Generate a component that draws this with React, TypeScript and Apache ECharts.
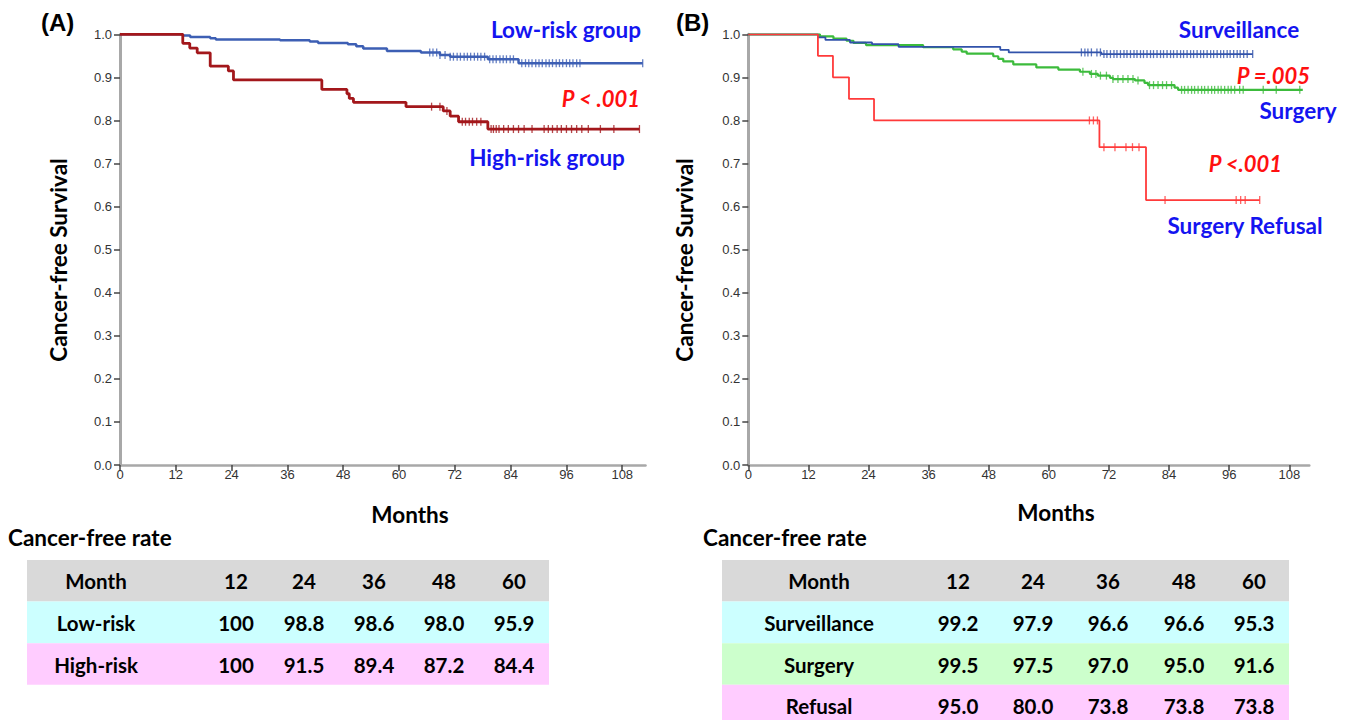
import React, { useEffect, useRef } from "react";
import * as echarts from "echarts";

// ---------- data ----------
const xTicks = [0, 12, 24, 36, 48, 60, 72, 84, 96, 108];
const yTicks = [0, 0.1, 0.2, 0.3, 0.4, 0.5, 0.6, 0.7, 0.8, 0.9, 1.0];

// Panel A: Kaplan-Meier steps [month, survival]
const lowRiskSteps = [
  [0, 1.0], [13.5, 0.997], [15.1, 0.994], [19.4, 0.991], [20.6, 0.988], [34.4, 0.986],
  [40.8, 0.983], [42.6, 0.98], [49.0, 0.977], [50.8, 0.972], [52.3, 0.967], [57.4, 0.961],
  [64.7, 0.958], [68.8, 0.952], [71.0, 0.948], [79.1, 0.942], [85.7, 0.933], [112.4, 0.933],
];
const highRiskSteps = [
  [0, 1.0], [13.5, 0.979], [15.0, 0.968], [16.6, 0.957], [19.4, 0.926], [23.3, 0.915],
  [24.4, 0.894], [43.4, 0.872], [48.8, 0.862], [49.3, 0.851], [50.2, 0.842], [61.5, 0.832],
  [69.5, 0.822], [71.0, 0.81], [72.8, 0.797], [79.1, 0.78], [111.7, 0.78],
];
const lowRiskCensored = [
  66.6, 67.3, 68.1, 68.8, 69.9, 71.0, 71.7, 72.5, 73.2, 74.0, 74.7, 75.4, 76.2, 76.9, 77.6,
  78.4, 79.5, 80.2, 80.9, 81.7, 82.4, 83.1, 83.9, 84.6, 86.4, 87.2, 87.9, 88.6, 89.4, 90.1,
  90.8, 91.6, 92.3, 93.0, 93.8, 94.5, 95.2, 96.0, 96.7, 97.4, 98.2, 98.9, 112.4,
];
const highRiskCensored = [
  67.0, 68.8, 70.3, 73.6, 74.3, 75.1, 75.8, 76.7, 77.6, 79.8, 80.3, 80.9, 81.5, 82.5, 83.5,
  84.6, 85.7, 86.9, 88.6, 91.2, 92.1, 93.0, 94.0, 94.9, 96.0, 97.1, 98.2, 99.3, 100.7, 103.3,
  106.2, 111.7,
];

// Panel B
const surveillanceSteps = [
  [0, 1.0], [13.9, 0.993], [15.4, 0.987], [20.3, 0.981], [24.7, 0.977], [30.0, 0.971],
  [50.3, 0.964], [52.0, 0.958], [70.5, 0.954], [100.7, 0.954],
];
const surgerySteps = [
  [0, 1.0], [14.3, 0.995], [17.0, 0.99], [19.6, 0.985], [21.0, 0.98], [23.5, 0.975],
  [34.9, 0.97], [40.9, 0.965], [42.6, 0.96], [43.6, 0.955], [48.9, 0.949], [49.9, 0.943],
  [50.9, 0.937], [52.9, 0.93], [57.5, 0.923], [61.9, 0.918], [66.2, 0.913], [68.2, 0.908],
  [69.8, 0.904], [72.2, 0.899], [72.8, 0.896], [77.2, 0.893], [79.1, 0.887], [79.8, 0.882],
  [85.1, 0.876], [85.8, 0.871], [110.7, 0.871],
];
const refusalSteps = [
  [0, 1.0], [13.9, 0.95], [16.9, 0.9], [20.1, 0.85], [25.1, 0.8], [70.1, 0.738],
  [79.4, 0.615], [102.1, 0.615],
];
const surveillanceCensored = [
  66.5, 67.2, 67.8, 68.5, 69.6, 70.3, 71.0, 71.6, 72.3, 73.0, 73.6, 74.3, 75.0, 75.6, 76.3,
  77.0, 77.6, 78.3, 78.9, 79.6, 80.3, 80.9, 81.6, 82.3, 82.9, 83.6, 84.3, 84.9, 85.6, 86.3,
  86.9, 87.6, 88.3, 88.9, 89.6, 90.3, 90.9, 91.6, 92.3, 92.9, 93.6, 94.3, 94.9, 95.6, 96.2,
  96.9, 97.6, 98.2, 98.9, 99.6, 100.7,
];
const surgeryCensored = [
  66.8, 68.5, 69.4, 70.3, 71.5, 72.8, 73.8, 74.8, 75.8, 76.8, 77.8, 80.1, 80.9, 81.8, 82.7,
  83.5, 84.5, 86.5, 87.1, 87.8, 88.5, 89.1, 89.8, 90.5, 91.1, 91.8, 92.5, 93.1, 93.8, 94.4,
  95.1, 95.8, 96.4, 97.1, 98.1, 98.8, 102.8, 105.4, 110.1,
];
const refusalCensored = [68.1, 68.9, 69.7, 71.0, 73.2, 75.4, 76.7, 78.0, 83.2, 97.4, 98.3, 99.2, 102.1];

// Tables
const tableMonths = ["12", "24", "36", "48", "60"];
const lowRiskRates = ["100", "98.8", "98.6", "98.0", "95.9"];
const highRiskRates = ["100", "91.5", "89.4", "87.2", "84.4"];
const surveillanceRates = ["99.2", "97.9", "96.6", "96.6", "95.3"];
const surgeryRates = ["99.5", "97.5", "97.0", "95.0", "91.6"];
const refusalRates = ["95.0", "80.0", "73.8", "73.8", "73.8"];

// ---------- helpers ----------
const survAt = (steps: number[][], t: number) => {
  let v = steps[0][1];
  for (const [m, s] of steps) if (m <= t) v = s;
  return v;
};
const censorPoints = (steps: number[][], times: number[]) => times.map((t) => [t, survAt(steps, t)]);

const FONT = "Lato";
const TICK_FONT = "Liberation Sans";

export default function App() {
  const ref = useRef<HTMLDivElement>(null);
  useEffect(() => {
    if (!ref.current) return;
    const chart = echarts.init(ref.current, null, { renderer: "svg" });

    const gridTop = 34.3;
    const gridH = 430.7;
    const grids = [
      { left: 120, top: gridTop, width: 525.5, height: gridH },
      { left: 748.3, top: gridTop, width: 561, height: gridH },
    ];
    const xMax = [113, 112];

    const xAxes = grids.map((_, i) => ({
      type: "value",
      gridIndex: i,
      min: 0,
      max: xMax[i],
      interval: 12,
      axisLine: { show: true, lineStyle: { color: "#a8a8a8", width: 2.5 } },
      axisTick: { show: true, length: 6, lineStyle: { color: "#444", width: 1.5 }, customValues: xTicks },
      axisLabel: {
        customValues: xTicks,
        color: "#333",
        fontFamily: TICK_FONT,
        fontSize: 13,
        margin: 3,
      },
      splitLine: { show: false },
    }));
    const yAxes = grids.map((_, i) => ({
      type: "value",
      gridIndex: i,
      min: 0,
      max: 1,
      interval: 0.1,
      axisLine: { show: true, lineStyle: { color: "#a8a8a8", width: 3 } },
      axisTick: { show: true, length: 6, lineStyle: { color: "#444", width: 1.5 }, customValues: yTicks },
      axisLabel: {
        customValues: yTicks,
        color: "#333",
        fontFamily: TICK_FONT,
        fontSize: 13,
        margin: 8,
        formatter: (v: number) => v.toFixed(1),
      },
      splitLine: { show: false },
    }));

    const stepSeries = (data: number[][], idx: number, color: string, width: number, z = 2) => ({
      type: "line",
      xAxisIndex: idx,
      yAxisIndex: idx,
      data,
      step: "end",
      showSymbol: false,
      symbol: "none",
      lineStyle: { color, width },
      z,
      silent: true,
    });
    const censorSeries = (data: number[][], idx: number, color: string, z = 3) => ({
      type: "scatter",
      xAxisIndex: idx,
      yAxisIndex: idx,
      data,
      symbol: "rect",
      symbolSize: [1.3, 8],
      itemStyle: { color },
      z,
      silent: true,
    });

    const cLow = "#3d5fb4";
    const cHigh = "#a3171b";
    const cSurv = "#3152aa";
    const cSurg = "#3cbb3c";
    const cRef = "#ff3a3a";

    const series = [
      stepSeries(lowRiskSteps, 0, cLow, 2.5),
      censorSeries(censorPoints(lowRiskSteps, lowRiskCensored), 0, cLow),
      stepSeries(highRiskSteps, 0, cHigh, 2.8, 4),
      censorSeries(censorPoints(highRiskSteps, highRiskCensored), 0, cHigh, 5),
      stepSeries(surgerySteps, 1, cSurg, 2.2),
      censorSeries(censorPoints(surgerySteps, surgeryCensored), 1, cSurg),
      stepSeries(surveillanceSteps, 1, cSurv, 1.8, 4),
      censorSeries(censorPoints(surveillanceSteps, surveillanceCensored), 1, cSurv, 5),
      stepSeries(refusalSteps, 1, cRef, 1.8, 6),
      censorSeries(censorPoints(refusalSteps, refusalCensored), 1, cRef, 7),
    ];

    const txt = (
      text: string,
      x: number,
      y: number,
      opts: { size?: number; color?: string; align?: string; weight?: string; style?: string; family?: string; rotation?: number } = {}
    ) => ({
      type: "text",
      x,
      y,
      rotation: opts.rotation || 0,
      silent: true,
      style: {
        text,
        fill: opts.color || "#000",
        fontSize: opts.size || 20,
        fontWeight: opts.weight || "bold",
        fontStyle: opts.style || "normal",
        fontFamily: opts.family || FONT,
        align: opts.align || "left",
        verticalAlign: "middle",
      },
    });

    const blue = "#1414f0";
    const red = "#ff1010";

    // table builder
    const buildTable = (
      left: number,
      right: number,
      colX: number[],
      rows: { label: string; values: string[]; fill: string }[]
    ) => {
      const top = 560;
      const rowH = 41.6;
      const els: any[] = [];
      const all = [{ label: "Month", values: tableMonths, fill: "#d9d9d9" }, ...rows];
      all.forEach((r, i) => {
        els.push({
          type: "rect",
          silent: true,
          shape: { x: left, y: top + i * rowH, width: right - left, height: rowH },
          style: { fill: r.fill },
        });
        const cy = top + i * rowH + rowH / 2 + 0.5;
        els.push(txt(r.label, colX[0], cy, { size: 20.5, align: "center" }));
        r.values.forEach((v, j) => {
          els.push(txt(v, colX[j + 1], cy, { size: 20.5, align: "center" }));
        });
      });
      return els;
    };

    const graphic = [
      // panel labels
      txt("(A)", 41, 22, { size: 24, family: "Liberation Sans" }),
      txt("(B)", 676, 22, { size: 24, family: "Liberation Sans" }),
      // axis titles
      txt("Cancer-free Survival", 58, 260, { size: 22.5, align: "center", rotation: Math.PI / 2 }),
      txt("Cancer-free Survival", 684, 260, { size: 22.5, align: "center", rotation: Math.PI / 2 }),
      txt("Months", 410, 514, { size: 22.5, align: "center" }),
      txt("Months", 1056, 512, { size: 22.5, align: "center" }),
      // annotations A
      txt("Low-risk group", 641, 29, { size: 22.5, align: "right", color: blue }),
      txt("P < .001", 640, 98, { size: 22, align: "right", color: red, style: "italic" }),
      txt("High-risk group", 547, 157, { size: 22.5, align: "center", color: blue }),
      // annotations B
      txt("Surveillance", 1239, 29, { size: 22.5, align: "center", color: blue }),
      txt("P =.005", 1310, 75, { size: 22, align: "right", color: red, style: "italic" }),
      txt("Surgery", 1298, 110, { size: 22.5, align: "center", color: blue }),
      txt("P <.001", 1282, 163, { size: 22, align: "right", color: red, style: "italic" }),
      txt("Surgery Refusal", 1245, 225, { size: 22.5, align: "center", color: blue }),
      // table titles
      txt("Cancer-free rate", 8, 537, { size: 22.5 }),
      txt("Cancer-free rate", 703, 537, { size: 22.5 }),
      ...buildTable(27, 549, [96, 236, 304, 374, 444, 514], [
        { label: "Low-risk", values: lowRiskRates, fill: "#ccffff" },
        { label: "High-risk", values: highRiskRates, fill: "#ffccff" },
      ]),
      ...buildTable(722, 1289, [819, 958, 1033, 1108, 1184, 1254], [
        { label: "Surveillance", values: surveillanceRates, fill: "#ccffff" },
        { label: "Surgery", values: surgeryRates, fill: "#ccffcc" },
        { label: "Refusal", values: refusalRates, fill: "#ffccff" },
      ]),
    ];

    chart.setOption({
      animation: false,
      backgroundColor: "#ffffff",
      grid: grids,
      xAxis: xAxes,
      yAxis: yAxes,
      series,
      graphic,
    });
    return () => chart.dispose();
  }, []);

  return (
    <div
      ref={ref}
      style={{ position: "fixed", left: 0, top: 0, width: 1349, height: 720, background: "#fff" }}
    />
  );
}
